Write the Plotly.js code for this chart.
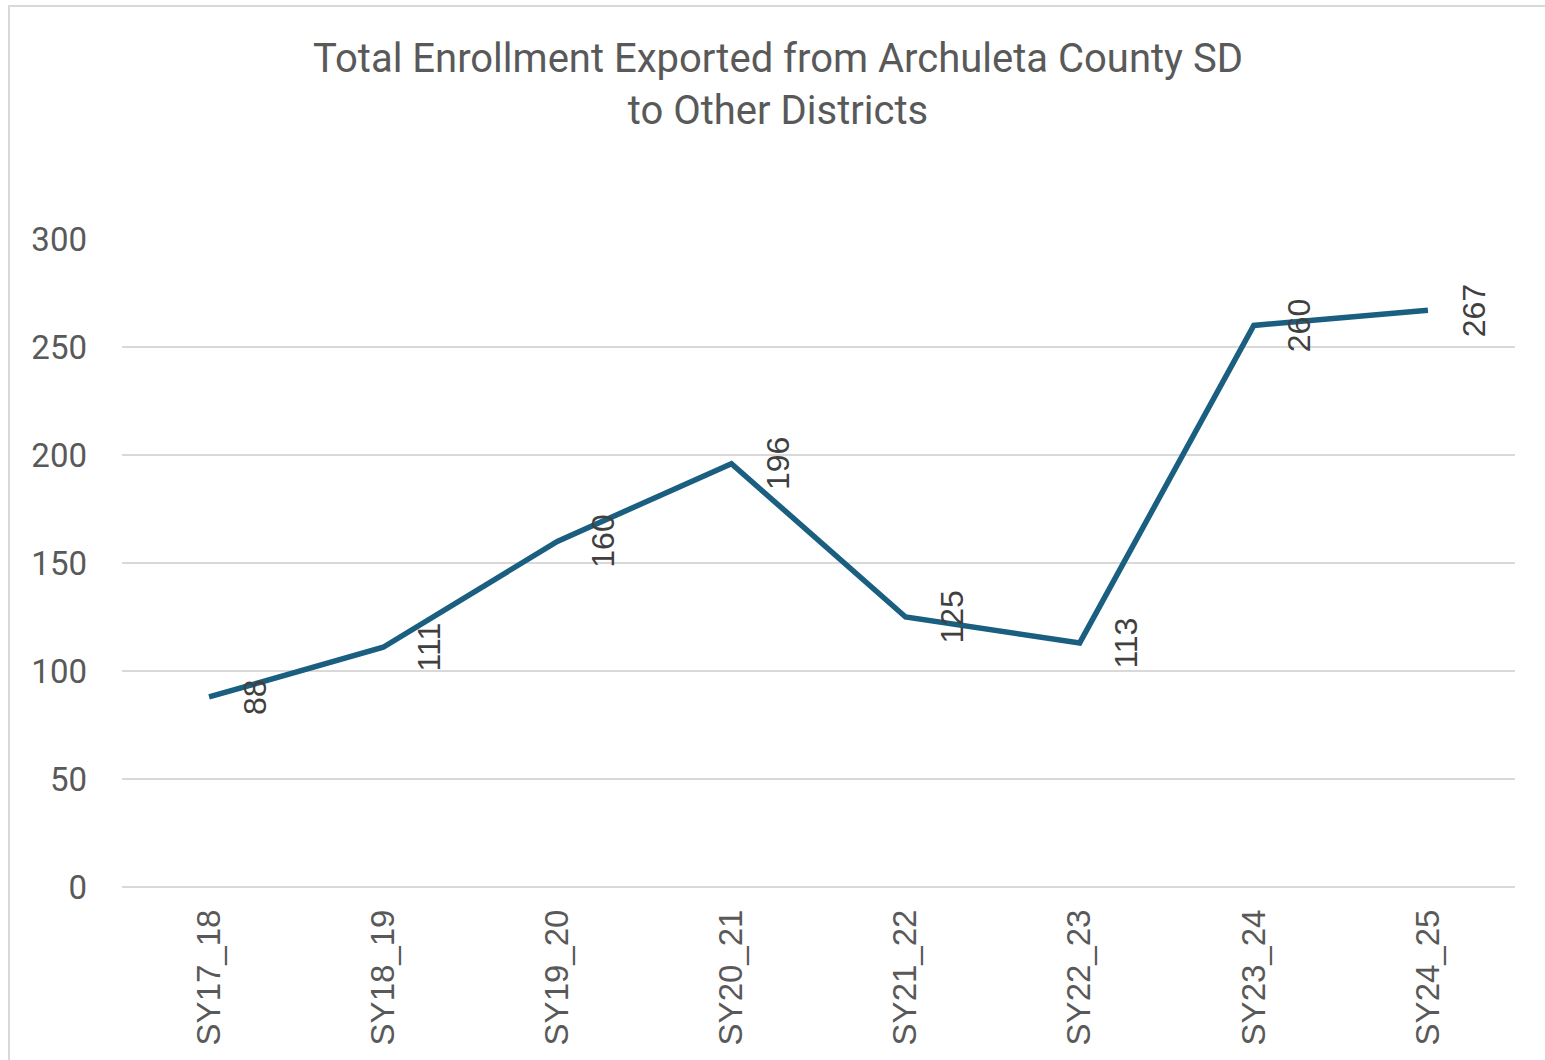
<!DOCTYPE html>
<html>
<head>
<meta charset="utf-8">
<script src="https://cdn.plot.ly/plotly-3.0.1.min.js"></script>
<style>
html,body{margin:0;padding:0;background:#fff;}
#chart{position:absolute;left:0;top:0;width:1545px;height:1060px;}
#frame{position:absolute;left:8px;top:5px;width:1600px;height:1100px;border-left:2px solid #d9d9d9;border-top:2px solid #d9d9d9;pointer-events:none;}
</style>
</head>
<body>
<div id="chart"></div>
<div id="frame"></div>
<script>
const categories = ["SY17_18","SY18_19","SY19_20","SY20_21","SY21_22","SY22_23","SY23_24","SY24_25"];
const enrollment = [88,111,160,196,125,113,260,267];
const yTicks = [0,50,100,150,200,250,300];
const titleText = "Total Enrollment Exported from Archuleta County SD<br>to Other Districts";

const trace = {
  type: "scatter",
  mode: "lines",
  x: categories,
  y: enrollment,
  line: {color: "#1a5f80", width: 5.5},
  hoverinfo: "x+y"
};

const annotations = categories.map((c, i) => ({
  x: c, y: enrollment[i], xref: "x", yref: "y",
  text: String(enrollment[i]),
  showarrow: false, textangle: -90,
  xshift: 46,
  font: {family: "Liberation Sans, Arial, sans-serif", size: 32, color: "#404040"}
}));

const layout = {
  width: 1545, height: 1060,
  paper_bgcolor: "#ffffff", plot_bgcolor: "#ffffff",
  margin: {l: 122, r: 30, t: 239, b: 173},
  showlegend: false,
  title: {
    text: titleText,
    font: {family: "Roboto, Liberation Sans, sans-serif", size: 40, color: "#595959"},
    x: 778/1545, xref: "container", xanchor: "center",
    y: 1 - 72/1060, yref: "container", yanchor: "middle"
  },
  xaxis: {
    type: "category",
    range: [-0.5, categories.length - 0.5],
    tickangle: -90,
    showgrid: false, showline: false, zeroline: false,
    ticks: "", ticklabelstandoff: 15,
    tickfont: {family: "Liberation Sans, Arial, sans-serif", size: 33, color: "#595959"}
  },
  yaxis: {
    range: [0, 300],
    tickvals: yTicks,
    showgrid: true, gridcolor: "#d9d9d9", gridwidth: 1.5,
    zeroline: true, zerolinecolor: "#d9d9d9", zerolinewidth: 1.5,
    showline: false, ticks: "", ticklabelstandoff: 34,
    tickfont: {family: "Roboto, Liberation Sans, sans-serif", size: 33, color: "#595959"}
  },
  annotations: annotations
};

Plotly.newPlot("chart", [trace], layout, {displayModeBar: false, responsive: false});
</script>
</body>
</html>
